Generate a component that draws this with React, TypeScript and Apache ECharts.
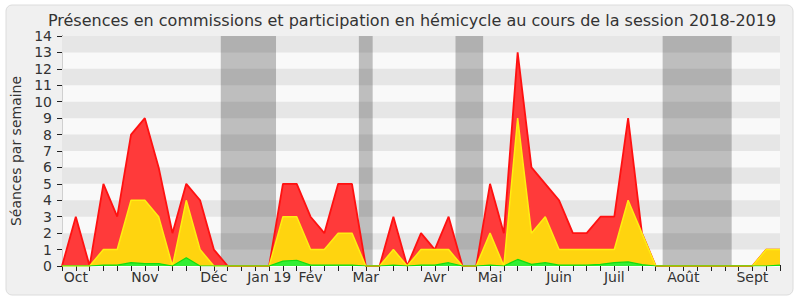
import React, { useEffect, useRef } from "react";
import * as echarts from "echarts";

// Weekly values, session 2018-2019 (53 weeks)
const presences: number[] = [
  0, 3, 0, 5, 3, 8, 9, 6, 2, 5, 4, 1, 0, 0, 0, 0, 5, 5, 3, 2, 5, 5, 0, 0, 3, 0,
  2, 1, 3, 0, 0, 5, 2, 13, 6, 5, 4, 2, 2, 3, 3, 9, 2, 0, 0, 0, 0, 0, 0, 0, 0, 1, 1,
];
const commissions: number[] = [
  0, 0, 0, 1, 1, 4, 4, 3, 0, 4, 1, 0, 0, 0, 0, 0, 3, 3, 1, 1, 2, 2, 0, 0, 1, 0,
  1, 1, 1, 0, 0, 2, 0, 9, 2, 3, 1, 1, 1, 1, 1, 4, 2, 0, 0, 0, 0, 0, 0, 0, 0, 1, 1,
];
const interventions: number[] = [
  0, 0, 0, 0.05, 0.05, 0.2, 0.15, 0.15, 0, 0.5, 0, 0, 0, 0, 0, 0, 0.3, 0.35, 0.05,
  0.05, 0.05, 0.05, 0, 0, 0.05, 0, 0.05, 0.05, 0.2, 0, 0, 0.05, 0, 0.4, 0.1, 0.2,
  0.05, 0.05, 0.05, 0.1, 0.2, 0.25, 0.08, 0, 0, 0, 0, 0, 0, 0, 0, 0, 0.05,
];
const monthIndex: number[] = [1, 6, 11, 15, 18, 22, 27, 31, 36, 40, 45, 50];
const monthNames: string[] = [
  "Oct", "Nov", "Déc", "Jan 19", "Fév", "Mar", "Avr", "Mai", "Juin", "Juil", "Août", "Sept",
];
// Holiday periods (week positions)
const vacStart: number[] = [11.5, 21.5, 28.5, 43.5];
const vacEnd: number[] = [15.5, 22.5, 30.5, 48.5];
const yTicks: number[] = [0, 1, 2, 3, 4, 5, 6, 7, 8, 9, 10, 11, 12, 13, 14];

const FONT = "DejaVu Sans";

export default function App() {
  const ref = useRef<HTMLDivElement>(null);
  useEffect(() => {
    if (!ref.current) return;
    const chart = echarts.init(ref.current, null, { renderer: "svg" });
    const toPts = (arr: number[]) => arr.map((v, i) => [i, v]);
    const stripes = yTicks
      .filter((k) => k % 2 === 1 && k < 14)
      .map((k) => [
        { yAxis: k, itemStyle: { color: "#e6e6e6" } },
        { yAxis: k + 1 },
      ]);
    const bands = vacStart.map((s, i) => [
      { xAxis: s, itemStyle: { color: "rgba(0,0,0,0.235)" } },
      { xAxis: vacEnd[i] },
    ]);
    const labelMap: Record<number, string> = {};
    monthIndex.forEach((m, i) => (labelMap[m] = monthNames[i]));

    chart.setOption({
      animation: false,
      textStyle: { fontFamily: FONT },
      graphic: [
        {
          type: "rect",
          z: -10,
          shape: { x: 6, y: 5, width: 787, height: 290, r: 6 },
          style: { fill: "#f0f0f0", stroke: "#dcdcdc", lineWidth: 1 },
        },
        {
          type: "text",
          z: 10,
          x: 412,
          y: 20,
          style: {
            text: "Présences en commissions et participation en hémicycle au cours de la session 2018-2019",
            fontFamily: FONT,
            fontSize: 16,
            lineHeight: 16,
            fill: "#333",
            textAlign: "center",
            textVerticalAlign: "middle",
          },
        },
      ],
      grid: {
        left: 62,
        right: 20,
        top: 36,
        bottom: 34,
        show: true,
        backgroundColor: "#f9f9f9",
        borderWidth: 0,
      },
      xAxis: [
        {
          type: "value",
          min: 0,
          max: presences.length - 1,
          interval: 1,
          splitLine: { show: false },
          axisLine: { show: true, lineStyle: { color: "#222", width: 1 } },
          axisTick: { show: true, length: 5, lineStyle: { color: "#222" } },
          axisLabel: {
            show: true,
            fontFamily: FONT,
            fontSize: 14,
            color: "#333",
            margin: 4,
            formatter: (v: number) => labelMap[Math.round(v)] || "",
          },
        },
        {
          type: "value",
          position: "top",
          min: 0,
          max: presences.length - 1,
          interval: 1,
          splitLine: { show: false },
          axisLine: { show: true, lineStyle: { color: "#ffffff", width: 1 } },
          axisTick: { show: true, length: 1, lineStyle: { color: "#222" } },
          axisLabel: { show: false },
        },
      ],
      yAxis: [
        {
          type: "value",
          min: 0,
          max: 14,
          interval: 1,
          name: "Séances par semaine",
          nameLocation: "middle",
          nameGap: 37,
          nameTextStyle: { fontFamily: FONT, fontSize: 14, color: "#333" },
          splitLine: { show: false },
          axisLine: { show: true, lineStyle: { color: "#222", width: 1 } },
          axisTick: { show: true, length: 5, lineStyle: { color: "#222" } },
          axisLabel: { fontFamily: FONT, fontSize: 14, color: "#333", margin: 10, lineHeight: 14 },
        },
        {
          type: "value",
          position: "right",
          min: 0,
          max: 14,
          interval: 1,
          splitLine: { show: false },
          axisLine: { show: true, lineStyle: { color: "#d0d0d0", width: 1 } },
          axisTick: { show: false },
          axisLabel: { show: false },
        },
      ],
      series: [
        {
          type: "line",
          z: 1,
          silent: true,
          data: [[0, 0]],
          symbol: "none",
          lineStyle: { width: 0 },
          markArea: { silent: true, data: [...stripes, ...bands] },
        },
        {
          type: "line",
          name: "Présences",
          z: 2,
          data: toPts(presences),
          symbol: "none",
          lineStyle: { color: "#ff1111", width: 1.8 },
          areaStyle: { color: "#ff3a3a", opacity: 1 },
        },
        {
          type: "line",
          name: "Commissions",
          z: 3,
          data: toPts(commissions),
          symbol: "none",
          lineStyle: { color: "#ffee11", width: 1.5 },
          areaStyle: { color: "#ffd40f", opacity: 1 },
        },
        {
          type: "line",
          name: "Interventions",
          z: 4,
          data: toPts(interventions),
          symbol: "none",
          lineStyle: { color: "#11dd11", width: 1.2 },
          areaStyle: { color: "#33ee33", opacity: 1 },
        },
      ],
    });
    return () => chart.dispose();
  }, []);
  return (
    <div
      ref={ref}
      style={{ position: "absolute", left: 0, top: 0, width: 800, height: 300 }}
    />
  );
}
